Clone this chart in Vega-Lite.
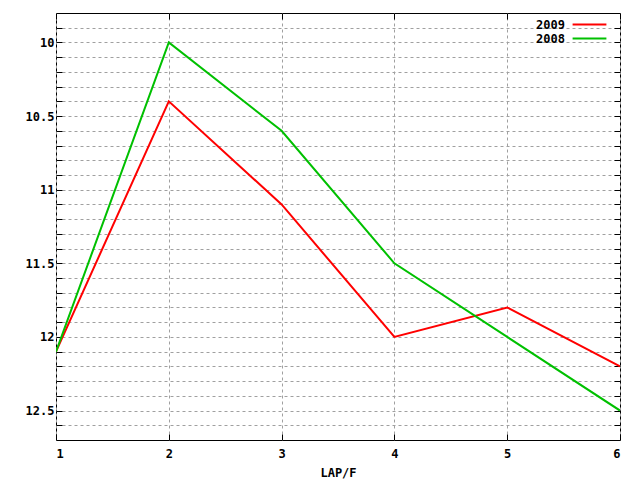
{
  "$schema": "https://vega.github.io/schema/vega-lite/v6.json",
  "width": 564,
  "height": 427,
  "autosize": {"type": "none"},
  "padding": {"left": 56, "top": 13, "right": 20, "bottom": 40},
  "background": "white",
  "config": {
    "view": {"stroke": "black", "strokeWidth": 1},
    "font": "DejaVu Sans Mono",
    "axis": {
      "labelFont": "DejaVu Sans Mono",
      "labelFontSize": 12,
      "labelFontWeight": "bold",
      "labelColor": "black",
      "titleFont": "DejaVu Sans Mono",
      "titleFontSize": 12,
      "titleFontWeight": "bold",
      "titleColor": "black",
      "domain": false,
      "gridColor": "#a0a0a0",
      "gridDash": [3, 3],
      "gridWidth": 1,
      "tickColor": "black",
      "tickSize": -6
    }
  },
  "data": {
    "values": [
      {"lap": 1, "time": 12.1, "year": "2009"},
      {"lap": 2, "time": 10.4, "year": "2009"},
      {"lap": 3, "time": 11.1, "year": "2009"},
      {"lap": 4, "time": 12.0, "year": "2009"},
      {"lap": 5, "time": 11.8, "year": "2009"},
      {"lap": 6, "time": 12.2, "year": "2009"},
      {"lap": 1, "time": 12.1, "year": "2008"},
      {"lap": 2, "time": 10.0, "year": "2008"},
      {"lap": 3, "time": 10.6, "year": "2008"},
      {"lap": 4, "time": 11.5, "year": "2008"},
      {"lap": 5, "time": 12.0, "year": "2008"},
      {"lap": 6, "time": 12.5, "year": "2008"}
    ]
  },
  "layer": [
    {
      "mark": {"type": "line", "strokeWidth": 2, "opacity": 0},
      "encoding": {
        "x": {
          "field": "lap",
          "type": "quantitative",
          "scale": {"domain": [1, 6], "nice": false, "zero": false},
          "axis": {"orient": "top", "values": [1, 2, 3, 4, 5, 6], "labels": false, "grid": false, "title": null}
        },
        "y": {
          "field": "time",
          "type": "quantitative",
          "scale": {"domain": [9.8, 12.7], "reverse": true, "nice": false, "zero": false},
          "axis": {
            "orient": "right",
            "values": [9.9, 10, 10.1, 10.2, 10.3, 10.4, 10.5, 10.6, 10.7, 10.8, 10.9, 11, 11.1, 11.2, 11.3, 11.4, 11.5, 11.6, 11.7, 11.8, 11.9, 12, 12.1, 12.2, 12.3, 12.4, 12.5, 12.6],
            "labels": false,
            "grid": false,
            "title": null
          }
        },
        "detail": {"field": "year", "type": "nominal"}
      }
    },
    {
      "mark": {"type": "line", "strokeWidth": 2, "clip": true},
      "encoding": {
        "x": {
          "field": "lap",
          "type": "quantitative",
          "scale": {"domain": [1, 6], "nice": false, "zero": false},
          "axis": {"orient": "bottom", "values": [1, 2, 3, 4, 5, 6], "format": "d", "title": "LAP/F", "grid": true, "labelPadding": 14, "titlePadding": 8}
        },
        "y": {
          "field": "time",
          "type": "quantitative",
          "scale": {"domain": [9.8, 12.7], "reverse": true, "nice": false, "zero": false},
          "axis": {
            "orient": "left",
            "values": [9.9, 10, 10.1, 10.2, 10.3, 10.4, 10.5, 10.6, 10.7, 10.8, 10.9, 11, 11.1, 11.2, 11.3, 11.4, 11.5, 11.6, 11.7, 11.8, 11.9, 12, 12.1, 12.2, 12.3, 12.4, 12.5, 12.6],
            "labelExpr": "abs(datum.value * 2 - round(datum.value * 2)) < 0.001 ? format(datum.value, '~g') : ''",
            "title": null,
            "grid": true,
            "labelPadding": 8
          }
        },
        "color": {
          "field": "year",
          "type": "nominal",
          "scale": {"domain": ["2009", "2008"], "range": ["#ff0000", "#00c000"]},
          "legend": {
            "title": null,
            "orient": "none",
            "legendX": 526,
            "legendY": 4,
            "symbolType": "M-2.6,0H2.6",
            "symbolSize": 169,
            "symbolStrokeWidth": 2,
            "labelFont": "DejaVu Sans Mono",
            "labelFontSize": 12,
            "labelFontWeight": "bold",
            "labelColor": "black",
            "labelAlign": "right",
            "labelOffset": -32,
            "rowPadding": -2
          }
        }
      }
    }
  ],
  "resolve": {"axis": {"x": "independent", "y": "independent"}}
}
